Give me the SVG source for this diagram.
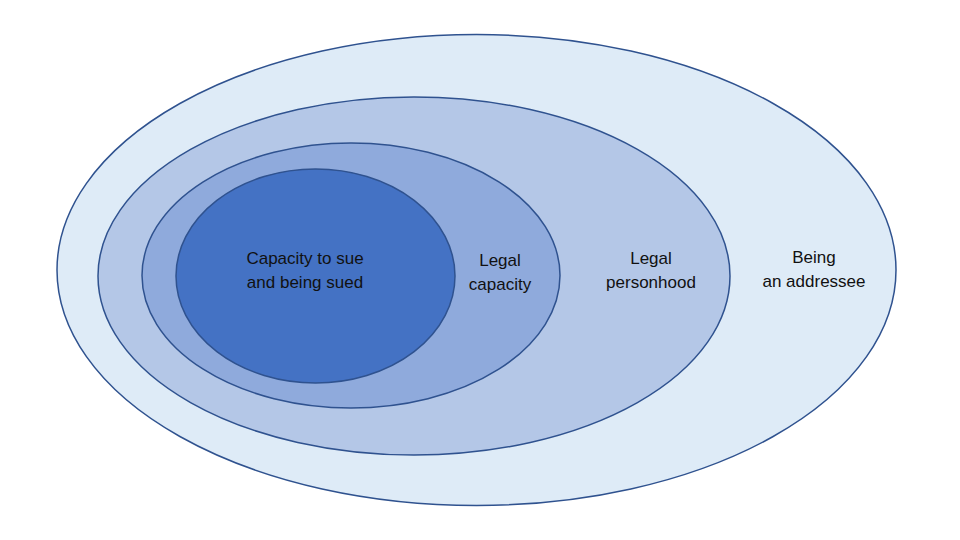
<svg xmlns="http://www.w3.org/2000/svg" width="960" height="540" viewBox="0 0 960 540">
<style>
.ring{stroke:#2F528F;stroke-width:1.5}
.t{font-family:"Liberation Sans",Arial,sans-serif;font-size:17px;fill:#111111;text-anchor:middle}
</style>
<rect width="960" height="540" fill="#ffffff"/>
<g id="being-addressee">
<ellipse class="ring" cx="476.5" cy="270" rx="419.5" ry="235.5" fill="#DEEBF7"/>
<text class="t" x="814" y="263">Being</text>
<text class="t" x="814" y="287">an addressee</text>
</g>
<g id="legal-personhood">
<ellipse class="ring" cx="414" cy="276" rx="316" ry="179" fill="#B4C7E7"/>
<text class="t" x="651" y="264">Legal</text>
<text class="t" x="651" y="288">personhood</text>
</g>
<g id="legal-capacity">
<ellipse class="ring" cx="351" cy="275.5" rx="209" ry="132.5" fill="#8FAADC"/>
<text class="t" x="500" y="266">Legal</text>
<text class="t" x="500" y="290">capacity</text>
</g>
<g id="capacity-to-sue">
<ellipse class="ring" cx="315.5" cy="276" rx="139.5" ry="107" fill="#4472C4"/>
<text class="t" x="305" y="264">Capacity to sue</text>
<text class="t" x="305" y="288">and being sued</text>
</g>
<g id="connectors"/>
</svg>
